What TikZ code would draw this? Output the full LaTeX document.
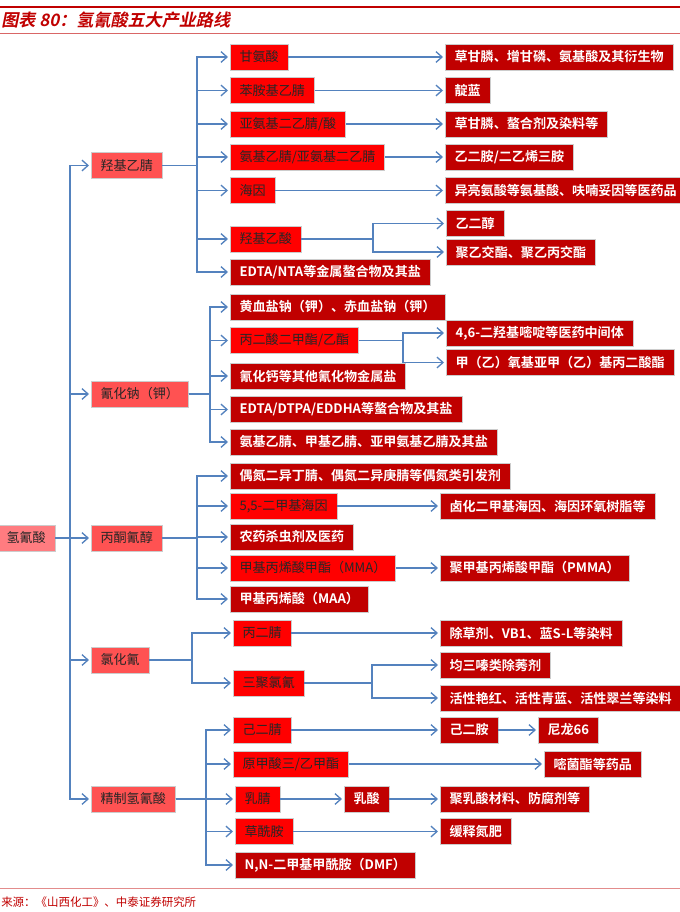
\documentclass[tikz,border=0pt]{standalone}
\usepackage{fontspec}
\setmainfont{Noto Sans CJK SC}[BoldFont={Noto Sans CJK SC Bold}]
\newfontfamily\titlefont{Noto Sans CJK SC Bold}[FakeSlant=0.2]
\usepackage{tikz}
\usetikzlibrary{arrows.meta,positioning,calc}
\definecolor{hcnpink}{RGB}{255,124,128}
\definecolor{midred}{RGB}{255,82,82}
\definecolor{brightred}{RGB}{255,0,0}
\definecolor{darkred}{RGB}{192,0,0}
\definecolor{linkblue}{RGB}{84,130,190}
\definecolor{rulered}{RGB}{192,0,0}
\tikzset{
  box/.style={rectangle,anchor=west,minimum height=19.5pt,inner xsep=7pt,inner ysep=0pt,
    draw=gray!40,line width=.4pt,font=\fontsize{9.8}{10}\selectfont},
  rootbox/.style={box,fill=hcnpink,text=black!85},
  lvone/.style={box,fill=midred,text=black!85},
  lvtwo/.style={box,fill=brightred,text=black!85},
  prod/.style={box,fill=darkred,text=white,font=\fontsize{9.8}{10}\selectfont\bfseries},
  link/.style={line width=1pt,draw=linkblue},
  arr/.style={link,-{Straight Barb[length=4.5pt,width=8pt]},shorten >=1.5pt}
}

\begin{document}
\begin{tikzpicture}[
  x=0.75pt,y=-0.75pt,
  titletext/.style={font=\titlefont\fontsize{12.8}{14}\selectfont,text=rulered,anchor=west,inner sep=0pt},
  sourcetext/.style={font=\fontsize{8.6}{10}\selectfont,text=rulered,anchor=west,inner sep=0pt}
]
  \useasboundingbox (0,0) rectangle (680,912);

  % header and footer
  \draw[rulered,line width=1.6pt] (0,7) -- (680,7);
  \node[titletext] (title) at (1,20) {图表 80：氢氰酸五大产业路线};
  \draw[rulered!60,line width=.5pt] (0,33) -- (680,33);
  \draw[rulered!45,line width=.6pt] (0,888) -- (680,888);
  \node[sourcetext] (source) at (1,902) {来源：《山西化工》、中泰证券研究所};

  \coordinate (trunk) at (70,0);
  \coordinate (busA) at (197,0);
  \coordinate (busB) at (210,0);
  \coordinate (busC) at (197,0);
  \coordinate (busD) at (192,0);
  \coordinate (busE) at (206,0);
  \coordinate (splA) at (373,0);
  \coordinate (splB) at (403,0);
  \coordinate (splD) at (372,0);

  \node[rootbox] (hcn) at (-3,538) {氢氰酸};

  \node[lvone] (gA) at (91,165.5) {羟基乙腈};
  \node[lvone] (gB) at (91,394) {氰化钠（钾）};
  \node[lvone] (gC) at (91,538) {丙酮氰醇};
  \node[lvone] (gD) at (91,660) {氯化氰};
  \node[lvone] (gE) at (91,799) {精制氢氰酸};

  % 羟基乙腈
  \node[lvtwo] (a1) at (230,57) {甘氨酸};
  \node[lvtwo] (a2) at (230,90.5) {苯胺基乙腈};
  \node[lvtwo] (a3) at (230,124) {亚氨基二乙腈/酸};
  \node[lvtwo] (a4) at (230,157) {氨基乙腈/亚氨基二乙腈};
  \node[lvtwo] (a5) at (230,190.5) {海因};
  \node[lvtwo] (a6) at (230,239) {羟基乙酸};
  \node[prod] (a7) at (230,272) {EDTA/NTA等金属螯合物及其盐};

  \node[prod] (ra1) at (445,57) {草甘膦、增甘磷、氨基酸及其衍生物};
  \node[prod] (ra2) at (445,90.5) {靛蓝};
  \node[prod] (ra3) at (445,124) {草甘膦、螯合剂及染料等};
  \node[prod] (ra4) at (445,157) {乙二胺/二乙烯三胺};
  \node[prod] (ra5) at (445,190.5) {异亮氨酸等氨基酸、呋喃妥因等医药品};
  \node[prod] (ra6a) at (446,223.5) {乙二醇};
  \node[prod] (ra6b) at (446,252) {聚乙交酯、聚乙丙交酯};

  % 氰化钠（钾）
  \node[prod] (b1) at (230,307) {黄血盐钠（钾）、赤血盐钠（钾）};
  \node[lvtwo] (b2) at (230,340.5) {丙二酸二甲酯/乙酯};
  \node[prod] (b3) at (230,376) {氰化钙等其他氰化物金属盐};
  \node[prod] (b4) at (230,409.5) {EDTA/DTPA/EDDHA等螯合物及其盐};
  \node[prod] (b5) at (230,442) {氨基乙腈、甲基乙腈、亚甲氨基乙腈及其盐};

  \node[prod] (rb2a) at (446,333) {4,6-二羟基嘧啶等医药中间体};
  \node[prod] (rb2b) at (446,362.5) {甲（乙）氧基亚甲（乙）基丙二酸酯};

  % 丙酮氰醇
  \node[prod] (c1) at (230,476) {偶氮二异丁腈、偶氮二异庚腈等偶氮类引发剂};
  \node[lvtwo] (c2) at (230,506) {5,5-二甲基海因};
  \node[prod] (c3) at (230,537) {农药杀虫剂及医药};
  \node[lvtwo] (c4) at (230,568) {甲基丙烯酸甲酯（MMA）};
  \node[prod] (c5) at (230,599) {甲基丙烯酸（MAA）};

  \node[prod] (rc2) at (440,506) {卤化二甲基海因、海因环氧树脂等};
  \node[prod] (rc4) at (440,568) {聚甲基丙烯酸甲酯（PMMA）};

  % 氯化氰
  \node[lvtwo] (d1) at (233,633) {丙二腈};
  \node[lvtwo] (d2) at (233,683) {三聚氯氰};

  \node[prod] (rd1) at (440,633) {除草剂、VB1、蓝S-L等染料};
  \node[prod] (rd2a) at (440,665) {均三嗪类除莠剂};
  \node[prod] (rd2b) at (440,698) {活性艳红、活性青蓝、活性翠兰等染料};

  % 精制氢氰酸
  \node[lvtwo] (e1) at (233,730) {己二腈};
  \node[lvtwo] (e2) at (233,764) {原甲酸三/乙甲酯};
  \node[lvtwo] (e3) at (235,799) {乳腈};
  \node[lvtwo] (e4) at (235,831.5) {草酰胺};
  \node[prod] (e5) at (235,865) {N,N-二甲基甲酰胺（DMF）};

  \node[prod] (re1) at (440,730) {己二胺};
  \node[prod] (re1b) at (538,730) {尼龙66};
  \node[prod] (re2) at (544,764) {嘧菌酯等药品};
  \node[prod] (re3) at (344,799) {乳酸};
  \node[prod] (re3b) at (440,799) {聚乳酸材料、防腐剂等};
  \node[prod] (re4) at (440,831.5) {缓释氮肥};

  % connectors
  \draw[arr] (hcn.east) -- (hcn.east -| trunk) |- (gA.west);
  \draw[arr] (hcn.east) -- (hcn.east -| trunk) |- (gB.west);
  \draw[arr] (hcn.east) -- (gC.west);
  \draw[arr] (hcn.east) -- (hcn.east -| trunk) |- (gD.west);
  \draw[arr] (hcn.east) -- (hcn.east -| trunk) |- (gE.west);

  \draw[arr] (gA.east) -- (gA.east -| busA) |- (a1.west);
  \draw[arr] (gA.east) -- (gA.east -| busA) |- (a2.west);
  \draw[arr] (gA.east) -- (gA.east -| busA) |- (a3.west);
  \draw[arr] (gA.east) -- (gA.east -| busA) |- (a4.west);
  \draw[arr] (gA.east) -- (gA.east -| busA) |- (a5.west);
  \draw[arr] (gA.east) -- (gA.east -| busA) |- (a6.west);
  \draw[arr] (gA.east) -- (gA.east -| busA) |- (a7.west);
  \draw[arr] (a1.east) -- (ra1.west);
  \draw[arr] (a2.east) -- (ra2.west);
  \draw[arr] (a3.east) -- (ra3.west);
  \draw[arr] (a4.east) -- (ra4.west);
  \draw[arr] (a5.east) -- (ra5.west);
  \draw[arr] (a6.east) -- (a6.east -| splA) |- (ra6a.west);
  \draw[arr] (a6.east) -- (a6.east -| splA) |- (ra6b.west);

  \draw[arr] (gB.east) -- (gB.east -| busB) |- (b1.west);
  \draw[arr] (gB.east) -- (gB.east -| busB) |- (b2.west);
  \draw[arr] (gB.east) -- (gB.east -| busB) |- (b3.west);
  \draw[arr] (gB.east) -- (gB.east -| busB) |- (b4.west);
  \draw[arr] (gB.east) -- (gB.east -| busB) |- (b5.west);
  \draw[arr] (b2.east) -- (b2.east -| splB) |- (rb2a.west);
  \draw[arr] (b2.east) -- (b2.east -| splB) |- (rb2b.west);

  \draw[arr] (gC.east) -- (gC.east -| busC) |- (c1.west);
  \draw[arr] (gC.east) -- (gC.east -| busC) |- (c2.west);
  \draw[arr] (gC.east) -- (gC.east -| busC) |- (c3.west);
  \draw[arr] (gC.east) -- (gC.east -| busC) |- (c4.west);
  \draw[arr] (gC.east) -- (gC.east -| busC) |- (c5.west);
  \draw[arr] (c2.east) -- (rc2.west);
  \draw[arr] (c4.east) -- (rc4.west);

  \draw[arr] (gD.east) -- (gD.east -| busD) |- (d1.west);
  \draw[arr] (gD.east) -- (gD.east -| busD) |- (d2.west);
  \draw[arr] (d1.east) -- (rd1.west);
  \draw[arr] (d2.east) -- (d2.east -| splD) |- (rd2a.west);
  \draw[arr] (d2.east) -- (d2.east -| splD) |- (rd2b.west);

  \draw[arr] (gE.east) -- (gE.east -| busE) |- (e1.west);
  \draw[arr] (gE.east) -- (gE.east -| busE) |- (e2.west);
  \draw[arr] (gE.east) -- (gE.east -| busE) |- (e3.west);
  \draw[arr] (gE.east) -- (gE.east -| busE) |- (e4.west);
  \draw[arr] (gE.east) -- (gE.east -| busE) |- (e5.west);
  \draw[arr] (e1.east) -- (re1.west);
  \draw[arr] (re1.east) -- (re1b.west);
  \draw[arr] (e2.east) -- (re2.west);
  \draw[arr] (e3.east) -- (re3.west);
  \draw[arr] (re3.east) -- (re3b.west);
  \draw[arr] (e4.east) -- (re4.west);
\end{tikzpicture}
\end{document}
